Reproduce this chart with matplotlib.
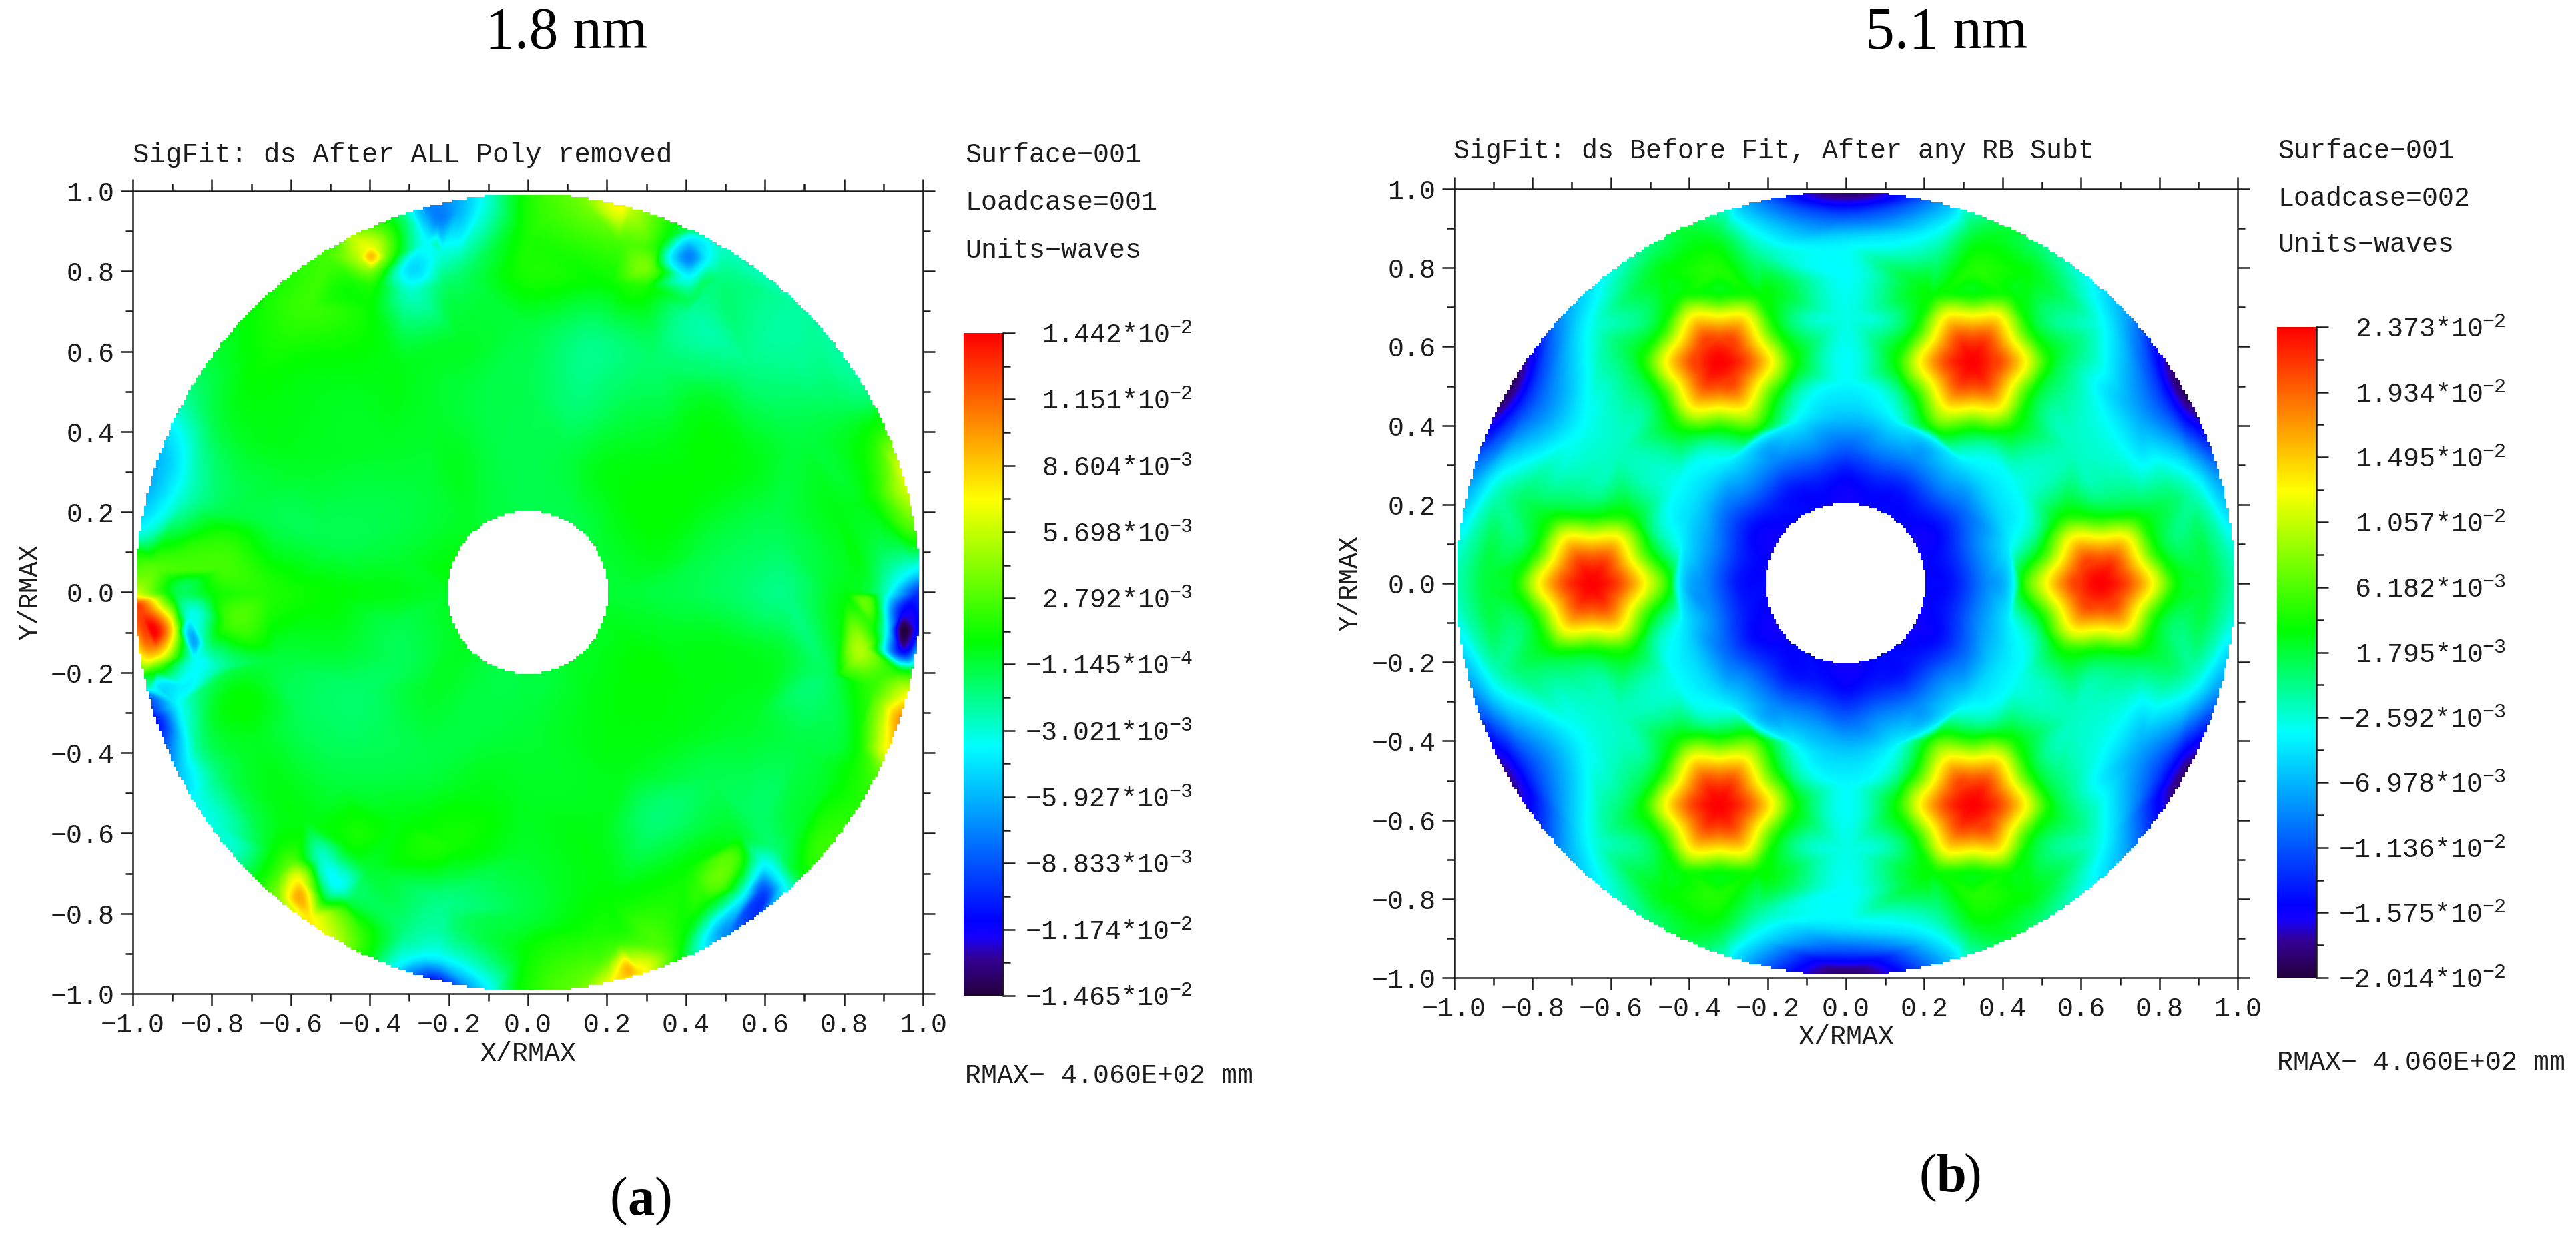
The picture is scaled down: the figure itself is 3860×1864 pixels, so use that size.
import numpy as np
import matplotlib
matplotlib.use('Agg')
import matplotlib.pyplot as plt
import matplotlib.tri as mtri
from matplotlib.colors import LinearSegmentedColormap

W, H = 3860, 1864
N = np.nan
MONO = 'Liberation Mono'
SERIF = 'Liberation Serif'
INK = '#1c1c1c'

# all surface values below are in units of 1e-3 waves
spoke_deg = np.arange(0, 360, 15)

# (a) rings of samples, one value per spoke
a_rings = [0.15, 0.2, 0.35, 0.5, 0.65, 0.8, 0.9, 1.0, 1.06]
a_r20 = [0, 0, 0, -0.3, -0.5, -0.5, -0.5, -0.3, -0.1, 0.3, 0.6, 0.8, 0.3, 0.3, 0.3, 0.3, -0.2, -0.4, -0.3, -0.2, 0.2, 0.3, 0.3, 0.3]
a_r35 = [-0.3, 0.5, 0.9, 0.8, 0.5, -0.3, -0.5, -0.3, 0.4, -0.1, -0.3, 0, 0.6, -0.5, -0.6, 0.2, -0.2, -0.2, 0, 0.3, 0.6, 0.8, 0.9, 0.3]
a_r50 = [-0.8, -0.3, 0.8, 0.6, -0.2, -1.3, -0.5, -0.3, 0.2, 0.2, -0.3, -0.5, 0.9, 0.2, -1, -0.6, -0.3, 0.5, 0.3, 0.3, 0.5, 0.6, 0.6, 0.5]
a_r65 = [-1.5, -0.5, 0.6, 0.5, -1, -1.5, -0.3, 0.2, 0.5, 0.3, 0.3, -0.5, 1.6, -0.2, -0.7, -0.3, 0.6, 1.2, 0.2, 0.6, -1.2, -0.5, 0.2, 0.3]
a_r80 = [0.5, 0.5, -0.3, -1.5, -1.8, 1, 1.5, -1, 1, 0.8, 0.5, -0.5, 1, -0.5, 0.3, 0.6, 0, -1.5, -0.2, 1, 1, -0.8, -0.3, -0.5]
a_r90 = [-2, 1, -0.5, -2, -1, 2.5, 1.5, -2.5, 1.5, 1.5, 0, -2.5, 0, -4, -1, 1, 0, -2.5, 1, 2, 1, -1, 0.5, 2]
a_r100 = [-10, 6, -1.4, -2, -2.5, 6, 1.5, -7, 2.5, 1, -1.5, -6, 6, -8, -4.5, 0, 6, -10, 1.5, 6.5, -7, 1, 2, 7]

# (a) local features: x/RMAX, y/RMAX, value
a_spot_x = [0.41, 0.41, 0.36, 0.46, 0.41, 0.41, 0.33, 0.49, 0.41, 0.24, 0.13, 0.31, 0.29, 0.02,
            0.957, 0.905, 0.866, 0.84, 0.995, 0.976, 1.0, 0.95, 0.91, 0.99, 0.95, 0.95, 0.88, 0.95,
            0.853, 0.866, 0.795, 0.944, 0.97, 0.905, 0.918, 0.885, 0.892, 0.834, 0.989,
            0.595, 0.49, 0.45, 0.41, 0.38, 0.6, 0.653, 0.68, 0.55, 0.49, 0.53, 0.54,
            0.26, 0.194, 0.13, 0.29, 0.355, 0.194, 0.065, 0.16, 0.388,
            -0.944, -0.989, -0.908, -0.892, -0.876, -0.944, -0.944, -0.944, -0.983, -0.996, -0.947, -0.985, -0.985, -0.977, -0.947,
            -0.847, -0.863, -0.82, -0.847, -0.782, -0.756, -0.77, -0.77,
            -0.944, -0.957, -0.918, -0.886, -0.886, -0.866, -0.834, -0.957, -0.847, -0.789, -0.737,
            -0.579, -0.582, -0.55, -0.53, -0.614, -0.64, -0.678, -0.595, -0.627, -0.472, -0.42, -0.414, -0.466, -0.51, -0.485, -0.53,
            -0.24, -0.304, -0.343, -0.142, -0.097, -0.058, -0.02, -0.272, -0.207, -0.142, -0.304, -0.174, -0.453, -0.246,
            -0.397, -0.397, -0.431, -0.353, -0.397, -0.517,
            -0.302, -0.258, -0.225, -0.172, -0.103, -0.052, -0.32, -0.345, -0.302, -0.388, -0.56, -0.216, -0.172]
a_spot_y = [0.838, 0.888, 0.838, 0.838, 0.788, 0.73, 0.87, 0.79, 0.91, 0.96, 0.98, 0.81, 0.76, 0.88,
            0.29, 0.31, 0.405, 0.24, 0.15, 0.055, -0.007, -0.096, -0.096, -0.096, -0.046, -0.15, -0.096, -0.2,
            -0.14, -0.02, -0.2, -0.316, -0.257, -0.356, -0.395, -0.448, -0.264, -0.38, -0.2,
            -0.744, -0.849, -0.875, -0.895, -0.888, -0.68, -0.73, -0.7, -0.744, -0.73, -0.665, -0.6,
            -0.96, -0.98, -0.99, -0.95, -0.935, -0.92, -0.97, -0.855, -0.915,
            -0.1, -0.027, -0.1, -0.1, -0.1, -0.152, -0.19, -0.225, -0.053, -0.014, 0.06, 0.1, 0.145, 0.256, 0.34,
            -0.126, -0.053, -0.126, -0.172, -0.19, -0.073, 0.06, 0.145,
            -0.323, -0.3, -0.395, -0.46, -0.283, -0.38, -0.38, -0.24, -0.51, -0.58, -0.645,
            -0.757, -0.71, -0.82, -0.85, -0.757, -0.71, -0.71, -0.665, -0.777, -0.85, -0.855, -0.9, -0.79, -0.757, -0.737, -0.66,
            -0.974, -0.954, -0.94, -0.987, -0.994, -1.0, -1.0, -0.908, -0.92, -0.934, -0.84, -0.842, -0.632, -0.645,
            0.839, 0.866, 0.839, 0.84, 0.799, 0.843,
            0.815, 0.877, 0.932, 0.965, 0.985, 0.99, 0.938, 0.91, 0.744, 0.755, 0.705, 0.844, 0.789]
a_spot_v = [-7.5, -3.7, -3.7, -3.7, -3.7, -0.8, 1.5, -1.5, -0.5, 7, 3.5, 3.5, 1.5, 1.5,
            6.5, 3, 1, 0.5, 2.5, -3.7, -10, -14.6, -3.7, -11, -11, -11, 1, 1.5,
            5, 3, 1.5, 10, 7, 6.5, 7.5, 3, 3.5, 1, 1.5,
            -9, -6.5, -4, -1, 1.5, -3.7, -3.5, 0, -3, 3, 2.5, 0,
            8.5, 6, 3.5, 7.5, 3, 3, 2.5, 1.5, 1,
            14.4, 12, 9, 5, -2, 9, 2.5, -3.7, 12.5, 8, 3, 1, -3, -6, -6,
            -6.5, -3, -2, -3.5, -2, 2.5, 2.5, 1.5,
            -11, -10, -8, -5.5, -3.7, -3.7, -1.5, -3, -3.7, -3, -2.5,
            9.5, 6.5, 7.5, 7, 6.5, 2.5, 1, 2.5, 4.5, 4.5, 2, 1.5, 2, -1, -3.5, -2.5,
            -11, -7, -3.5, -6, -3.7, -1, 1, -3.7, -4, -3, -1.5, -1, 1, 1.5,
            9, 6.5, 5.5, 3, 3.5, 2.5,
            -4.5, -3.7, -7.5, -6, -3, -0.5, -1, 1.5, -2.5, 1, 2.2, -3, -1]

# (b) rings of samples, N where a hexagon below takes over
b_rings = [0.15, 0.2, 0.27, 0.35, 0.43, 0.5, 0.58, 0.68, 0.78, 0.87, 0.93, 1.0, 1.06]
b_r20 = [-15, -15.5, -16, -15.5, -15, -15.5, -16, -15.5, -15, -15.5, -16, -15.5, -15, -15.5, -16, -15.5, -15, -15.5, -16, -15.5, -15, -15.5, -16, -15.5]
b_r27 = [-14.5, -14, -15, -14, -14.5, -14, -15, -14, -14.5, -14, -15, -14, -14.5, -14, -15, -14, -14.5, -14, -15, -14, -14.5, -14, -15, -14]
b_r35 = [-9.5, -9, -10.5, -9, -9.5, -9, -10.5, -9, -9.5, -9, -10.5, -9, -9.5, -9, -10.5, -9, -9.5, -9, -10.5, -9, -9.5, -9, -10.5, -9]
b_r43 = [-3.5, -4.5, -5.5, -4.5, -3.5, -4.5, -6, -4.5, -3.5, -4.5, -5.5, -4.5, -3.5, -4.5, -5.5, -4.5, -3.5, -4.5, -6, -4.5, -3.5, -4.5, -5.5, -4.5]
b_r50 = [N, -1, -3.4, -1, N, -1, -4, -1, N, -1, -3.4, -1, N, -1, -3.4, -1, N, -1, -4, -1, N, -1, -3.4, -1]
b_r58 = [N, N, -2.2, N, N, N, -3.5, N, N, N, -2.2, N, N, N, -2.2, N, N, N, -3.5, N, N, N, -2.2, N]
b_r68 = [N, N, -2, N, N, N, -3, N, N, N, -2, N, N, N, -2, N, N, N, -3, N, N, N, -2, N]
b_r78 = [N, 1, -3.5, 1, N, 3, -3.6, 3, N, 1, -3.5, 1, N, 1, -3.5, 1, N, 3, -3.6, 3, N, 1, -3.5, 1]
b_r87 = [N, 0, -8, -1, N, -1, -4.5, -1, N, -1, -8, 0, N, 0, -8, -1, N, -1, -4.5, -1, N, -1, -8, 0]
b_r93 = [1.5, -2.5, -12, -3.5, 3, -3.5, -11, -3.5, 3, -3.5, -12, -2.5, 1.5, -2.5, -12, -3.5, 3, -3.5, -11, -3.5, 3, -3.5, -12, -2.5]
b_r100 = [-1.5, -8, -19.5, -7, 0, -7, -19.5, -7, 0, -7, -19.5, -8, -1.5, -8, -18, -7, 0, -7, -19.5, -7, 0, -7, -19, -8]

# (b) the six hexagonal peaks and the value read at each hexagon radius
hex_x = [0.65, 0.325, -0.325, -0.65, -0.325, 0.325]
hex_y = [0.0, 0.563, 0.563, 0.0, -0.563, -0.563]
hex_radius = [0.07, 0.135, 0.2]
hex_centre_v = [23.7, 23.7, 23.7, 23.7, 23.7, 23.7]
hex_ring_v = [[20.5, 12.8, 3.3], [20.5, 12.8, 3.3], [20.5, 12.8, 3.3],
              [20.5, 12.8, 3.3], [20.5, 12.8, 3.3], [20.5, 12.8, 3.3]]

# (b) green lobes running outward from the top and bottom hexagons
lobe_x = [0.33, -0.33, -0.33, 0.33, 0.43, -0.43, -0.43, 0.43, 0.33, -0.33, -0.33, 0.33]
lobe_y = [0.8, 0.8, -0.8, -0.8, 0.8, 0.8, -0.8, -0.8, 0.87, 0.87, -0.87, -0.87]
lobe_v = [4.5, 4.5, 4.5, 4.5, 3.5, 3.5, 3.5, 3.5, 2.5, 2.5, 2.5, 2.5]

# colour bars
a_bar_values = [14.42, 11.51, 8.604, 5.698, 2.792, -0.1145, -3.021, -5.927, -8.833, -11.74, -14.65]
a_bar_labels = ['1.442*10', '1.151*10', '8.604*10', '5.698*10', '2.792*10', '\u22121.145*10',
                '\u22123.021*10', '\u22125.927*10', '\u22128.833*10', '\u22121.174*10', '\u22121.465*10']
a_bar_exps = ['\u22122', '\u22122', '\u22123', '\u22123', '\u22123', '\u22124', '\u22123', '\u22123', '\u22123', '\u22122', '\u22122']
b_bar_values = [23.73, 19.34, 14.95, 10.57, 6.182, 1.795, -2.592, -6.978, -11.36, -15.75, -20.14]
b_bar_labels = ['2.373*10', '1.934*10', '1.495*10', '1.057*10', '6.182*10', '1.795*10',
                '\u22122.592*10', '\u22126.978*10', '\u22121.136*10', '\u22121.575*10', '\u22122.014*10']
b_bar_exps = ['\u22122', '\u22122', '\u22122', '\u22122', '\u22123', '\u22123', '\u22123', '\u22123', '\u22122', '\u22122', '\u22122']

axis_ticks = [-1.0, -0.8, -0.6, -0.4, -0.2, 0.0, 0.2, 0.4, 0.6, 0.8, 1.0]
axis_minor = [-0.9, -0.7, -0.5, -0.3, -0.1, 0.1, 0.3, 0.5, 0.7, 0.9]
axis_labels = ['\u22121.0', '\u22120.8', '\u22120.6', '\u22120.4', '\u22120.2', '0.0', '0.2', '0.4', '0.6', '0.8', '1.0']

rainbow = LinearSegmentedColormap.from_list('sigfit', [
    (0.0, (0.14, 0.0, 0.24)), (0.055, (0.2, 0.0, 0.58)), (0.09, (0.08, 0.0, 1.0)),
    (0.112, (0.0, 0.0, 1.0)), (0.376, (0.0, 1.0, 1.0)), (0.535, (0.0, 1.0, 0.0)),
    (0.75, (1.0, 1.0, 0.0)), (1.0, (1.0, 0.0, 0.0))], N=512)


def box(left, top, right, bottom):
    return [left / W, 1 - bottom / H, (right - left) / W, (bottom - top) / H]


def put(fig, x, y, s, **kw):
    kw.setdefault('family', MONO)
    kw.setdefault('fontsize', 28.8)
    kw.setdefault('color', INK)
    kw.setdefault('va', 'baseline')
    fig.text(x / W, 1 - y / H, s, **kw)


def polar_samples(rings, rows):
    xs, ys, vs = [], [], []
    for r, row in zip(rings, rows):
        for deg, v in zip(spoke_deg, row):
            if not np.isnan(v):
                xs.append(r * np.cos(np.radians(deg)))
                ys.append(r * np.sin(np.radians(deg)))
                vs.append(v)
    return xs, ys, vs


def hex_samples():
    # vertices and edge midpoints, so the contours keep straight sides
    xs, ys, vs = [], [], []
    for cx, cy, cv, ring_v in zip(hex_x, hex_y, hex_centre_v, hex_ring_v):
        xs.append(cx)
        ys.append(cy)
        vs.append(cv)
        for rad, v in zip(hex_radius, ring_v):
            for deg in range(0, 360, 30):
                d = rad if deg % 60 == 0 else rad * np.cos(np.radians(30))
                xs.append(cx + d * np.cos(np.radians(deg)))
                ys.append(cy + d * np.sin(np.radians(deg)))
                vs.append(v)
    return xs, ys, vs


def draw_surface(ax, xs, ys, vs, vmin, vmax):
    tri = mtri.Triangulation(xs, ys)
    interp = mtri.CubicTriInterpolator(tri, vs, kind='geom')
    side = np.linspace(-1, 1, 320)
    gx, gy = np.meshgrid(side, side)
    gz = interp(gx, gy)
    rad = np.hypot(gx, gy)
    gz = np.ma.masked_where((rad > 1.0) | (rad < 0.2), gz)
    ax.imshow(gz, origin='lower', extent=(-1, 1, -1, 1), cmap=rainbow, vmin=vmin, vmax=vmax,
              aspect='auto', interpolation='bilinear')


def style_axes(ax):
    ax.set_xlim(-1, 1)
    ax.set_ylim(-1, 1)
    ax.set_xticks(axis_ticks)
    ax.set_xticklabels(axis_labels, family=MONO, fontsize=28.8, color=INK)
    ax.set_yticks(axis_ticks)
    ax.set_yticklabels(axis_labels, family=MONO, fontsize=28.8, color=INK)
    ax.set_xticks(axis_minor, minor=True)
    ax.set_yticks(axis_minor, minor=True)
    ax.tick_params(which='major', length=13, width=1.8, direction='out', top=True, right=True, color=INK, pad=7)
    ax.tick_params(which='minor', length=8, width=1.8, direction='out', top=True, right=True, color=INK)
    for spine in ax.spines.values():
        spine.set_linewidth(1.8)
        spine.set_color(INK)


def draw_bar(fig, rect, values, labels, exps, label_right):
    bar = fig.add_axes(box(*rect))
    vmin, vmax = values[-1], values[0]
    ramp = np.linspace(vmin, vmax, 512).reshape(-1, 1)
    bar.imshow(ramp, origin='lower', extent=(0, 1, vmin, vmax), cmap=rainbow, vmin=vmin, vmax=vmax, aspect='auto')
    bar.set_xticks([])
    bar.yaxis.tick_right()
    bar.set_yticks(values)
    bar.set_yticklabels([])
    bar.set_yticks([(a + b) / 2 for a, b in zip(values[:-1], values[1:])], minor=True)
    bar.tick_params(which='major', length=13, width=1.8, color=INK)
    bar.tick_params(which='minor', length=8, width=1.8, color=INK)
    for side in ['left', 'top', 'bottom']:
        bar.spines[side].set_visible(False)
    bar.spines['right'].set_linewidth(1.8)
    bar.spines['right'].set_color(INK)
    top, bottom = rect[1], rect[3]
    for val, lab, ex in zip(values, labels, exps):
        tick_y = top + (vmax - val) / (vmax - vmin) * (bottom - top)
        put(fig, label_right, tick_y + 14, lab, ha='right')
        put(fig, label_right - 2, tick_y, ex, ha='left', fontsize=21.6)


fig = plt.figure(figsize=(W / 100, H / 100), dpi=100, facecolor='white')

# panel (a)
ax_a = fig.add_axes(box(199, 286, 1383, 1489))
ax_b = fig.add_axes(box(2179, 283, 3353, 1465))

a_rows = [a_r20, a_r20, a_r35, a_r50, a_r65, a_r80, a_r90, a_r100, a_r100]
ax_, ay_, av_ = polar_samples(a_rings, a_rows)
draw_surface(ax_a, ax_ + a_spot_x, ay_ + a_spot_y, av_ + a_spot_v, a_bar_values[-1], a_bar_values[0])
style_axes(ax_a)

# panel (b)
b_rows = [b_r20, b_r20, b_r27, b_r35, b_r43, b_r50, b_r58, b_r68, b_r78, b_r87, b_r93, b_r100, b_r100]
bx_, by_, bv_ = polar_samples(b_rings, b_rows)
hx_, hy_, hv_ = hex_samples()
draw_surface(ax_b, bx_ + hx_ + lobe_x, by_ + hy_ + lobe_y, bv_ + hv_ + lobe_v, b_bar_values[-1], b_bar_values[0])
style_axes(ax_b)

draw_bar(fig, (1444, 499, 1503, 1492), a_bar_values, a_bar_labels, a_bar_exps, 1753)
draw_bar(fig, (3412, 490, 3471, 1465), b_bar_values, b_bar_labels, b_bar_exps, 3721)

put(fig, 199, 243, 'SigFit: ds After ALL Poly removed', fontsize=29.3)
put(fig, 2178, 237, 'SigFit: ds Before Fit, After any RB Subt', fontsize=28.8)
for x0, base, case in [(1446, (243, 314, 386), '001'), (3413, (237, 308, 377), '002')]:
    put(fig, x0, base[0], 'Surface\u2212001')
    put(fig, x0, base[1], 'Loadcase=' + case)
    put(fig, x0, base[2], 'Units\u2212waves')
put(fig, 1446, 1623, 'RMAX\u2212 4.060E+02 mm')
put(fig, 3412, 1603, 'RMAX\u2212 4.060E+02 mm')

put(fig, 791, 1590, 'X/RMAX', ha='center')
put(fig, 2766, 1565, 'X/RMAX', ha='center')
put(fig, 45, 887, 'Y/RMAX', ha='center', va='center', rotation=90)
put(fig, 2022, 874, 'Y/RMAX', ha='center', va='center', rotation=90)

put(fig, 849, 72, '1.8 nm', family=SERIF, fontsize=63, ha='center', color='black')
put(fig, 2917, 72, '5.1 nm', family=SERIF, fontsize=63, ha='center', color='black')
for cx, base, letter in [(955, 1820, 'a'), (2917, 1785, 'b')]:
    put(fig, cx - 15, base, '(', family=SERIF, fontsize=58, ha='right', color='black')
    put(fig, cx - 15, base, letter, family=SERIF, fontsize=58, fontweight='bold', ha='left', color='black')
    put(fig, cx + 25, base, ')', family=SERIF, fontsize=58, ha='left', color='black')

fig.savefig('out.png', dpi=100)
